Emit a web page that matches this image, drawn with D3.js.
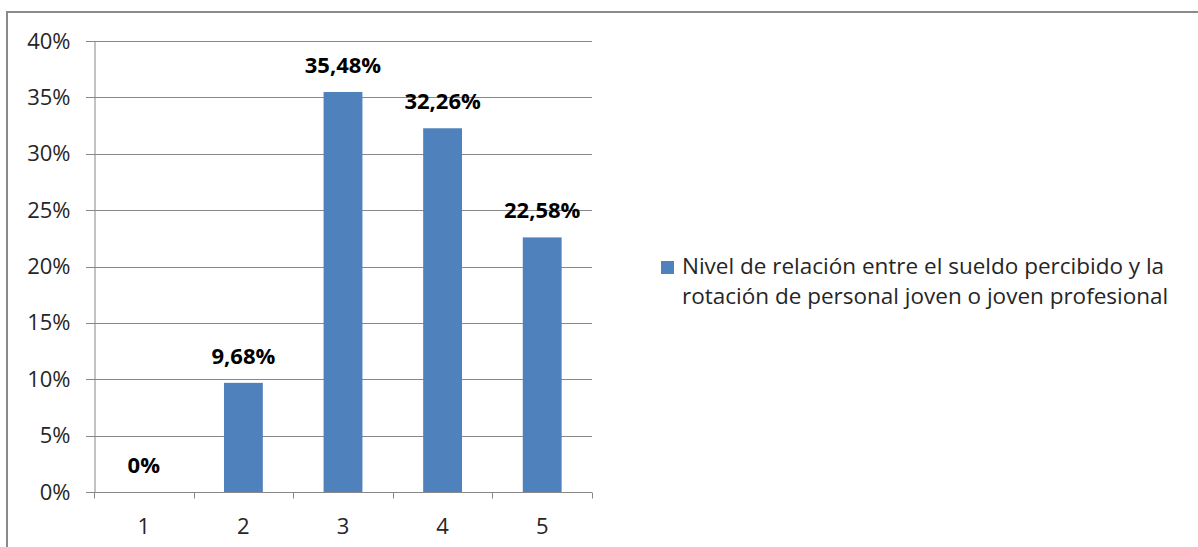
<!DOCTYPE html>
<html>
<head>
<meta charset="utf-8">
<script src="https://cdn.jsdelivr.net/npm/d3@7"></script>
<style>
  html, body { margin: 0; padding: 0; background: #fff; }
  svg { display: block; }
</style>
</head>
<body>
<svg id="chart" width="1198" height="547"></svg>
<script>
// Response levels and share of answers for each
const categories = ["1", "2", "3", "4", "5"];
const values = [0, 9.68, 35.48, 32.26, 22.58];
const valueLabels = ["0%", "9,68%", "35,48%", "32,26%", "22,58%"];
const yTicks = [0, 5, 10, 15, 20, 25, 30, 35, 40];
const seriesName = ["Nivel de relación entre el sueldo percibido y la",
                    "rotación de personal joven o joven profesional"];

const svg = d3.select("#chart");
const font = "'Open Sans', 'Liberation Sans', sans-serif";
const barColor = "#4F81BD";
const gridColor = "#888888";
const textColor = "#262626";

// outer chart frame
svg.append("rect")
  .attr("x", 7).attr("y", 12)
  .attr("width", 1300).attr("height", 600)
  .attr("fill", "#fff")
  .attr("stroke", "#8a8a8a").attr("stroke-width", 2);

const x = d3.scaleBand().domain(categories).range([94, 592]).paddingInner(0).paddingOuter(0);
const y = d3.scaleLinear().domain([0, 40]).range([492, 41]);

// horizontal gridlines
svg.append("g").selectAll("line").data(yTicks).join("line")
  .attr("x1", 86).attr("x2", 592)
  .attr("y1", d => Math.round(y(d)) + 0.5).attr("y2", d => Math.round(y(d)) + 0.5)
  .attr("stroke", gridColor).attr("stroke-width", 1);

// y axis
const yAxis = d3.axisLeft(y).tickValues(yTicks).tickFormat(d => d + "%").tickSize(0).tickPadding(24);
svg.append("g").attr("transform", "translate(94.5,0)").call(yAxis)
  .call(g => g.select(".domain").attr("stroke", gridColor))
  .call(g => g.selectAll("text").attr("font-family", font).attr("font-size", 22).attr("fill", textColor));

// x axis with boundary ticks between categories
const xg = svg.append("g").attr("transform", "translate(0,492.5)");
xg.append("line").attr("x1", 94).attr("x2", 592).attr("stroke", gridColor);
const bounds = categories.map(c => x(c)).concat([x.range()[1]]);
xg.selectAll("line.tick").data(bounds).join("line").attr("class", "tick")
  .attr("x1", d => Math.round(d) + 0.5).attr("x2", d => Math.round(d) + 0.5)
  .attr("y1", 0).attr("y2", 6).attr("stroke", gridColor);
xg.selectAll("text").data(categories).join("text")
  .attr("x", d => x(d) + x.bandwidth() / 2).attr("y", 41)
  .attr("text-anchor", "middle")
  .attr("font-family", font).attr("font-size", 22).attr("fill", textColor)
  .text(d => d);

// bars
const barW = x.bandwidth() * 0.39;
const data = categories.map((c, i) => ({ c, v: values[i], label: valueLabels[i] }));
svg.append("g").selectAll("rect").data(data).join("rect")
  .attr("x", d => x(d.c) + (x.bandwidth() - barW) / 2)
  .attr("y", d => y(d.v))
  .attr("width", barW)
  .attr("height", d => y(0) - y(d.v))
  .attr("fill", barColor);

// value labels
svg.append("g").selectAll("text").data(data).join("text")
  .attr("x", d => x(d.c) + x.bandwidth() / 2)
  .attr("y", d => y(d.v) - 19)
  .attr("text-anchor", "middle")
  .attr("font-family", font).attr("font-size", 22).attr("font-weight", "bold").attr("fill", "#000")
  .text(d => d.label);

// legend
const lg = svg.append("g");
lg.append("rect").attr("x", 661).attr("y", 261).attr("width", 13).attr("height", 13).attr("fill", barColor);
lg.selectAll("text").data(seriesName).join("text")
  .attr("x", 682).attr("y", (d, i) => 274 + i * 30)
  .attr("font-family", font).attr("font-size", 22.5).attr("fill", textColor)
  .text(d => d);
</script>
</body>
</html>
